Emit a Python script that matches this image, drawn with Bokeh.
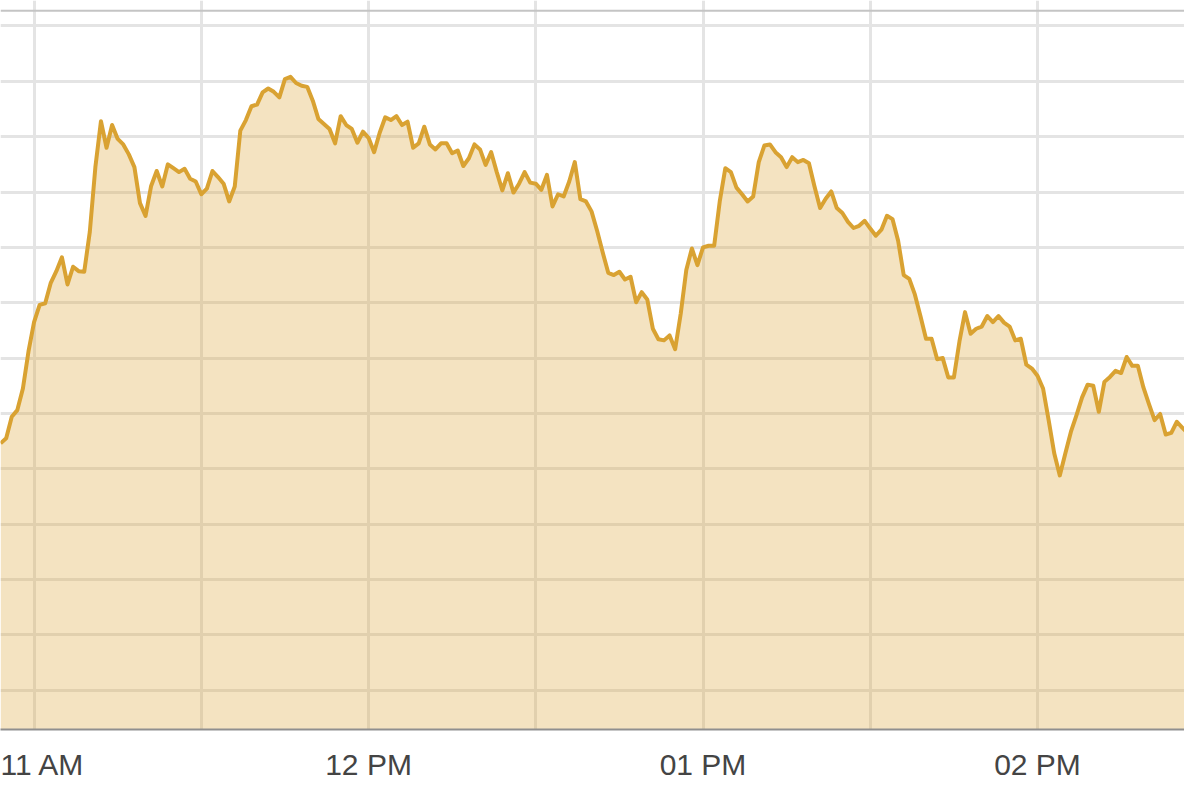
import pandas as pd
from bokeh.embed import file_html
from bokeh.models import DatetimeTickFormatter, FixedTicker, Range1d, Span
from bokeh.plotting import figure
from bokeh.resources import INLINE

# one-minute prices from 10:54 onwards
START = "2024-01-15 10:54"
PRICES = [
    2044.6, 2045.5, 2049.4, 2050.6, 2054.5, 2061.2,
    2066.5, 2069.6, 2069.9, 2073.6, 2075.7, 2078.2, 2073.3, 2076.5, 2075.7, 2075.6,
    2082.8, 2094.5, 2102.8, 2098.0, 2102.1, 2099.6, 2098.6, 2096.8, 2094.5, 2088.0,
    2085.7, 2091.1, 2093.8, 2091.0, 2095.0, 2094.3, 2093.6, 2094.2, 2092.4, 2091.9,
    2089.6, 2090.6, 2093.8, 2092.7, 2091.5, 2088.3, 2091.0, 2101.1, 2103.0, 2105.5,
    2105.8, 2108.0, 2108.7, 2108.1, 2107.1, 2110.4, 2110.8, 2109.7, 2109.2, 2109.0,
    2106.5, 2103.2, 2102.3, 2101.4, 2098.8, 2103.7, 2102.1, 2101.4, 2098.9, 2100.9,
    2099.8, 2097.2, 2100.7, 2103.5, 2103.0, 2103.7, 2102.1, 2102.7, 2098.0, 2098.8,
    2101.8, 2098.6, 2097.7, 2098.8, 2098.8, 2097.0, 2097.5, 2094.7, 2096.1, 2098.6,
    2097.7, 2094.9, 2097.2, 2093.6, 2090.3, 2093.4, 2089.9, 2091.5, 2093.6, 2091.7,
    2091.5, 2090.4, 2093.1, 2087.4, 2089.6, 2089.2, 2091.9, 2095.4, 2088.7, 2088.3,
    2086.5, 2083.0, 2079.1, 2075.4, 2075.0, 2075.6, 2074.2, 2074.7, 2070.1, 2071.9,
    2070.6, 2065.3, 2063.4, 2063.2, 2064.1, 2061.6, 2068.0, 2075.9, 2079.8, 2076.8,
    2080.0, 2080.3, 2080.3, 2088.3, 2094.3, 2093.6, 2090.8, 2089.6, 2088.3, 2089.2,
    2095.4, 2098.4, 2098.6, 2097.2, 2096.3, 2094.5, 2096.3, 2095.4, 2095.8, 2095.2,
    2091.0, 2087.1, 2088.8, 2090.1, 2087.1, 2086.2, 2084.6, 2083.5, 2083.9, 2084.8,
    2083.4, 2082.1, 2083.2, 2085.7, 2085.1, 2081.2, 2075.0, 2074.3, 2071.5, 2067.6,
    2063.5, 2063.5, 2059.8, 2060.0, 2056.5, 2056.5, 2063.0, 2068.3, 2064.4, 2065.3,
    2065.7, 2067.6, 2066.5, 2067.6, 2066.4, 2065.7, 2063.2, 2063.5, 2058.8, 2058.1,
    2056.8, 2054.5, 2048.8, 2042.8, 2038.8, 2042.8, 2046.7, 2049.7, 2052.9, 2055.2,
    2055.0, 2050.3, 2055.7, 2056.6, 2057.7, 2057.3, 2060.2, 2058.6, 2058.6, 2054.7,
    2051.7, 2048.8, 2049.9, 2046.2, 2046.5, 2048.5, 2047.4, 2046.4,
]
HOUR_TICKS = ["11:00", "12:00", "13:00", "14:00"]
HALF_HOUR_TICKS = ["11:00", "11:30", "12:00", "12:30", "13:00", "13:30", "14:00"]
PRICE_GRID = [2000, 2010, 2020, 2030, 2040, 2050, 2060, 2070, 2080, 2090, 2100, 2110, 2120]

LINE = "#d9a232"
Y_LO, Y_HI = 1992.9, 2124.6


def ms(hhmm):
    return pd.Timestamp(f"2024-01-15 {hhmm}").value / 1e6


times = pd.date_range(START, periods=len(PRICES), freq="1min")
t0 = ms("11:00")

p = figure(width=1184, height=784, x_axis_type="datetime", y_axis_location=None,
           output_backend="svg", toolbar_location=None,
           min_border_left=0, min_border_right=0, min_border_top=0, min_border_bottom=55,
           background_fill_color="white", border_fill_color="white", outline_line_color=None)
p.x_range = Range1d(t0 - 6.02 * 60000, t0 + 206.37 * 60000)
p.y_range = Range1d(Y_LO, Y_HI)

p.xgrid.ticker = FixedTicker(ticks=[ms(t) for t in HALF_HOUR_TICKS])
p.ygrid.ticker = FixedTicker(ticks=PRICE_GRID)
p.grid.grid_line_color = "#e4e4e4"
p.grid.grid_line_width = 3

p.varea(x=times, y1=Y_LO - 5, y2=PRICES, fill_color=LINE, fill_alpha=0.3)
p.line(x=times, y=PRICES, line_color=LINE, line_width=4, line_join="round")

# thin frame line along the top
p.add_layout(Span(location=2122.74, dimension="width", line_color="#c4c4c4", line_width=2))

ax = p.xaxis[0]
ax.ticker = FixedTicker(ticks=[ms(t) for t in HOUR_TICKS])
ax.formatter = DatetimeTickFormatter(hours="%I %p", hourmin="%I %p")
ax.axis_line_color = "#8f8f8f"
ax.axis_line_width = 2
ax.major_tick_line_color = None
ax.minor_tick_line_color = None
ax.major_tick_out = 0
ax.major_label_standoff = 18
ax.major_label_text_font = "Liberation Sans"
ax.major_label_text_font_size = "30px"
ax.major_label_text_color = "#444444"

open("out.html", "w").write(file_html(p, INLINE))
